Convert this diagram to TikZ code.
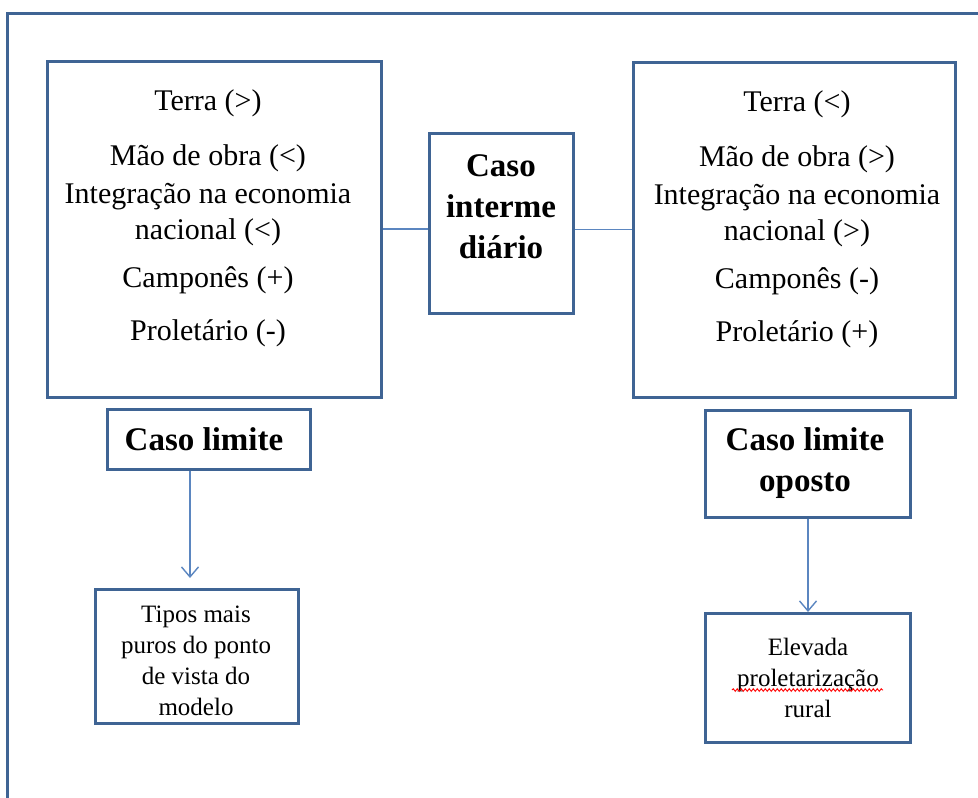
\documentclass[tikz,border=0pt]{standalone}
\usepackage{fontspec}
\setmainfont{Liberation Serif}
\usetikzlibrary{arrows.meta,decorations.pathmorphing}
\definecolor{frameblue}{HTML}{3F6494}
\definecolor{lineblue}{HTML}{5B86C0}
\tikzset{
  boxst/.style={draw=frameblue,line width=3pt,fill=white,inner sep=0pt},
  conn/.style={draw=lineblue,line width=1.4pt},
  arr/.style={conn,-{Straight Barb[length=10pt,width=17pt,line width=1.4pt]}},
  bigtxt/.style={align=center,inner sep=0pt,font=\fontsize{30}{36}\selectfont},
  boldtxt/.style={align=center,inner sep=0pt,font=\fontsize{33}{41}\selectfont\bfseries},
  smalltxt/.style={align=center,inner sep=0pt,font=\fontsize{25}{31}\selectfont},
}
\begin{document}
\begin{tikzpicture}[x=1pt,y=-1pt]
\useasboundingbox (0,0) rectangle (978,798);
% outer frame (only top and left edges visible)
\draw[frameblue,line width=3pt] (7,800) -- (7,13) -- (980,13);
% boxes
\node[boxst,minimum width=334pt,minimum height=336pt] (lbox) at (214,229) {};
\node[boxst,minimum width=322pt,minimum height=335pt] (rbox) at (794,229.5) {};
\node[boxst,minimum width=144pt,minimum height=180pt] (mid) at (501,223) {};
\node[boxst,minimum width=203pt,minimum height=60pt] (lim) at (208.5,439) {};
\node[boxst,minimum width=205pt,minimum height=107pt] (opo) at (807.5,463.5) {};
\node[boxst,minimum width=203pt,minimum height=134pt] (tip) at (196.5,656) {};
\node[boxst,minimum width=205pt,minimum height=129pt] (ele) at (807.5,677.5) {};
% texts
\node[bigtxt] (ltxt) at (208,218) {Terra (>)\\[19pt]Mão de obra (<)\\[2pt]Integração na economia\\nacional (<)\\[12pt]Camponês (+)\\[17pt]Proletário (-)};
\node[bigtxt] (rtxt) at (797,219) {Terra (<)\\[19pt]Mão de obra (>)\\[2pt]Integração na economia\\nacional (>)\\[12pt]Camponês (-)\\[17pt]Proletário (+)};
\node[boldtxt] (mtxt) at (501,206.5) {Caso\\interme\\diário};
\node[boldtxt] (limtxt) at (204,439) {Caso limite};
\node[boldtxt] (opotxt) at (805,463) {Caso limite\\oposto};
\node[smalltxt] (tiptxt) at (196,660.5) {Tipos mais\\puros do ponto\\de vista do\\modelo};
\node[smalltxt] (eletxt) at (808,678) {Elevada\\proletarização\\rural};
% spell-check squiggle
\coordinate (sq1) at (732,690);
\coordinate (sq2) at (883,690);
\draw[red,line width=0.9pt,decorate,decoration={snake,amplitude=1.3pt,segment length=4pt}] (sq1) -- (sq2);
% connectors
\draw[conn] (lbox.east) -- (lbox.east -| mid.west);
\draw[conn] (mid.east |- rbox.west) -- (rbox.west);
\coordinate (a1) at (190,578);
\draw[arr] (lim.south -| a1) -- (a1);
\coordinate (a2) at (808,612);
\draw[arr] (opo.south -| a2) -- (a2);
\end{tikzpicture}
\end{document}
